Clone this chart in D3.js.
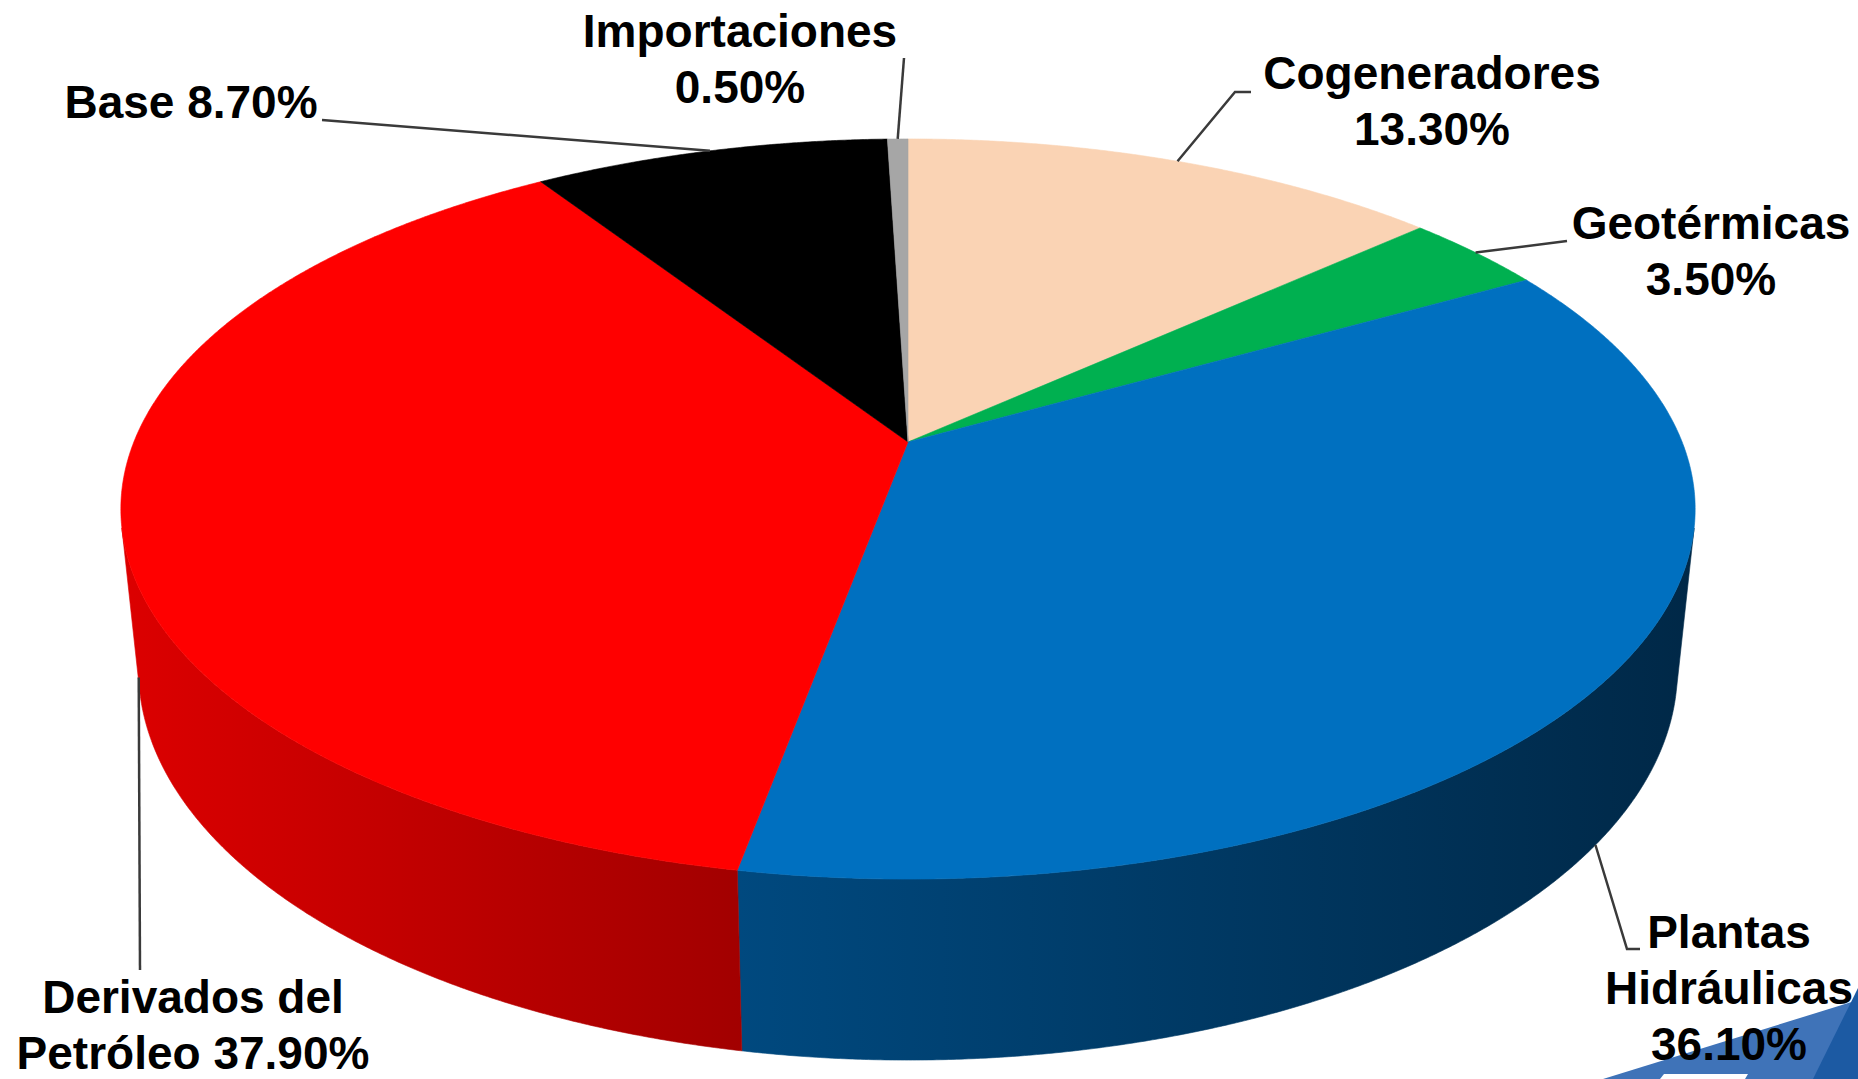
<!DOCTYPE html>
<html lang="es">
<head>
<meta charset="UTF-8">
<title>Generación por fuente</title>
<script src="https://d3js.org/d3.v7.min.js"></script>
<style>
  body { margin: 0; background: #fff; }
  svg { display: block; }
  .label { font-family: "Liberation Sans", Arial, sans-serif; font-weight: bold; font-size: 46px; fill: #000; }
  .leader { fill: none; stroke: #3a3a3a; stroke-width: 2.5; }
</style>
</head>
<body>
<svg></svg>
<script>
// data, clockwise from 12 o'clock
const categories = ['Cogeneradores', 'Geotérmicas', 'Plantas Hidráulicas', 'Derivados del Petróleo', 'Base', 'Importaciones'];
const values = [13.3, 3.5, 36.1, 37.9, 8.7, 0.5];
const topColors = ['#FAD3B4', '#00B050', '#0070C0', '#FF0000', '#000000', '#A6A6A6'];
const sideColors = [['#E0B898', '#C9A080'], ['#009040', '#006830'], ['#00497F', '#002847'], ['#DC0000', '#A20000'], ['#222', '#000'], ['#999', '#777']];
// label text lines, {v} = formatted value
const labelLines = [
    ['Cogeneradores', '{v}'],
    ['Geotérmicas', '{v}'],
    ['Plantas', 'Hidráulicas', '{v}'],
    ['Derivados del', 'Petróleo {v}'],
    ['Base {v}'],
    ['Importaciones', '{v}']
];

const width = 1858, height = 1079;
const lineGap = 56;

// label layout: text centre x, first baseline, leader points (after the slice anchor)
const labelLayout = [
    {x: 1432, y: 89, leader: [[1235, 92], [1251, 92]]},
    {x: 1711, y: 239, leader: [[1567, 241]]},
    {x: 1729, y: 948, leader: [[1627, 949], [1640, 949]]},
    {x: 193, y: 1013, leader: [[140, 970]]},
    {x: 191, y: 118, leader: [[322, 120]]},
    {x: 740, y: 47, leader: [[904, 58]]}
];

// perspective camera for the 3d pie
const cam = {cx: 908, cy: 442, F: 3791, d: 4.897, elev: 27.54 * Math.PI / 180, h: 0.236};
const sE = Math.sin(cam.elev), cE = Math.cos(cam.elev);

function project3(X, Y, Z) {
    const vy = Y - cam.d * cE, vz = Z - cam.d * sE;
    const yc = -sE * vy + cE * vz;
    const zc = -cE * vy - sE * vz;
    return [cam.cx + cam.F * X / zc, cam.cy - cam.F * yc / zc];
}
const arcPoint = (a, z) => project3(Math.sin(a), -Math.cos(a), z);

function arcPoints(a0, a1, z) {
    const n = Math.max(2, Math.ceil(Math.abs(a1 - a0) / (0.25 * Math.PI / 180)));
    return d3.range(n + 1).map(i => arcPoint(a0 + (a1 - a0) * i / n, z));
}

// outer wall faces the camera where cos(a) < -1/(d cos e)
const wallMin = Math.acos(-1 / (cam.d * cE));
const wallMax = 2 * Math.PI - wallMin;

const svg = d3.select('svg').attr('width', width).attr('height', height);
const defs = svg.append('defs');

// slide decoration in the corner
const deco = svg.append('g');
deco.append('polygon').attr('points', '1603,1079 1858,1000 1858,1079').attr('fill', '#3F73B8');
deco.append('polygon').attr('points', '1813,1079 1858,988 1858,1079').attr('fill', '#1C5AA3');
deco.append('polygon').attr('points', '1660,1079 1664,1074 1748,1074 1745,1079').attr('fill', '#ffffff');

const pie = d3.pie().sort(null).value(d => d)(values);
const line = d3.line();

// walls
const walls = svg.append('g');
pie.forEach((p, i) => {
    const a0 = Math.max(p.startAngle, wallMin), a1 = Math.min(p.endAngle, wallMax);
    if (a1 <= a0) return;
    const top = arcPoints(a0, a1, 0);
    const bot = arcPoints(a1, a0, -cam.h);
    const xs = top.concat(bot).map(q => q[0]);
    const gid = 'wall' + i;
    const g = defs.append('linearGradient').attr('id', gid)
        .attr('gradientUnits', 'userSpaceOnUse')
        .attr('x1', d3.min(xs)).attr('x2', d3.max(xs)).attr('y1', 0).attr('y2', 0);
    g.append('stop').attr('offset', 0).attr('stop-color', sideColors[i][0]);
    g.append('stop').attr('offset', 1).attr('stop-color', sideColors[i][1]);
    walls.append('path')
        .attr('d', line(top.concat(bot)) + 'Z')
        .attr('fill', `url(#${gid})`)
        .attr('stroke', `url(#${gid})`)
        .attr('stroke-width', 0.6);
});

// top faces
const apex = project3(0, 0, 0);
svg.append('g').selectAll('path')
    .data(pie)
    .join('path')
    .attr('d', p => line([apex].concat(arcPoints(p.startAngle, p.endAngle, 0))) + 'Z')
    .attr('fill', (p, i) => topColors[i])
    .attr('stroke', (p, i) => topColors[i])
    .attr('stroke-width', 0.6);

// leaders + labels
const fmt = v => d3.format('.2f')(v) + '%';
const labels = svg.append('g');
pie.forEach((p, i) => {
    const mid = (p.startAngle + p.endAngle) / 2;
    // front half: leader starts at the bottom rim of the wall
    const front = Math.cos(mid) < 0;
    const anchor = arcPoint(mid, front ? -cam.h : 0);
    const lay = labelLayout[i];
    labels.append('path').attr('class', 'leader')
        .attr('d', line([anchor].concat(lay.leader)));
    const t = labels.append('text').attr('class', 'label')
        .attr('text-anchor', 'middle');
    labelLines[i].forEach((s, k) => {
        t.append('tspan')
            .attr('x', lay.x)
            .attr('y', lay.y + k * lineGap)
            .text(s.replace('{v}', fmt(p.data)));
    });
});
</script>
</body>
</html>
